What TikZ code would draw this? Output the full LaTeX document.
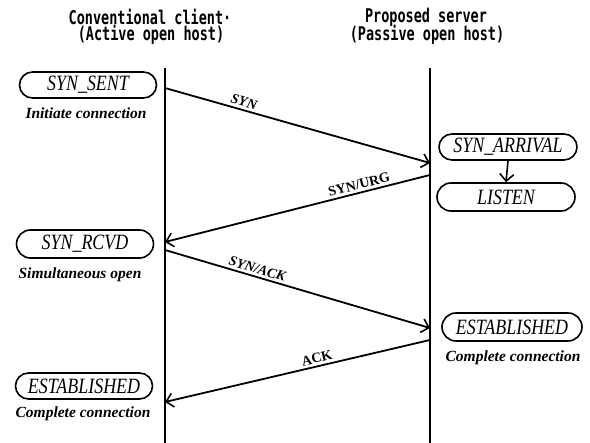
\documentclass[tikz,border=0pt]{standalone}
\usepackage{fontspec}
\setmainfont{Liberation Serif}
\newfontfamily\headfont{DejaVu Sans Mono}
\usetikzlibrary{shapes.misc,arrows.meta}

\begin{document}
\begin{tikzpicture}[x=1pt,y=-1pt,
  state/.style={rounded rectangle, draw, line width=1.6pt, minimum width=137pt,
    minimum height=26pt, inner sep=0pt, font=\fontsize{19.5}{20}\selectfont\itshape},
  caption/.style={font=\fontsize{15.5}{16}\selectfont\bfseries\itshape, inner sep=0pt},
  head/.style={font=\fontsize{13.5}{14}\selectfont\headfont\bfseries, inner sep=0pt},
  life/.style={line width=1.6pt},
  msg/.style={line width=1.8pt, -{Straight Barb[length=7pt,width=14pt,line width=1.6pt]}},
  msglab/.style={font=\fontsize{14}{14}\selectfont\bfseries, sloped, above, inner sep=2.5pt}
]
\useasboundingbox (0,0) rectangle (590,443);

% column headings
\node[head] (h1a) at (150,17) {\scalebox{1.0}[1.4]{Conventional client·}};
\node[head] (h1b) at (151,35) {\scalebox{1.0}[1.4]{(Active open host)}};
\node[head] (h2a) at (426,17) {\scalebox{1.0}[1.4]{Proposed server}};
\node[head] (h2b) at (427,35) {\scalebox{1.0}[1.4]{(Passive open host)}};

% lifelines
\coordinate (ltop) at (165,68);
\coordinate (lbot) at (165,443);
\coordinate (rtop) at (430,68);
\coordinate (rbot) at (430,443);
\draw[life] (ltop) -- (lbot);
\draw[life] (rtop) -- (rbot);

% client states
\node[state] (sent) at (88,85) {\scalebox{0.92}[1.12]{SYN\_SENT}};
\node[caption] (sentc) at (86,113) {Initiate connection};
\node[state, minimum height=28pt] (rcvd) at (85,244) {\scalebox{0.92}[1.12]{SYN\_RCVD}};
\node[caption] (rcvdc) at (80,275) {Simultaneous open};
\node[state] (estl) at (84,386) {\scalebox{0.92}[1.12]{ESTABLISHED}};
\node[caption] (estlc) at (83,414) {Complete connection};

% server states
\node[state, minimum width=138pt] (arr) at (508,147) {\scalebox{0.92}[1.12]{SYN\_ARRIVAL}};
\node[state, minimum width=138pt, minimum height=28pt] (lis) at (506,197) {\scalebox{0.92}[1.12]{LISTEN}};
\node[state, minimum width=140pt, minimum height=28pt] (estr) at (512,327) {\scalebox{0.92}[1.12]{ESTABLISHED}};
\node[caption] (estrc) at (513,358) {Complete connection};
\draw[msg, line width=1.6pt] (arr.south) -- (lis.north);

% message anchor points on the lifelines
\coordinate (m1s) at (165,88);
\coordinate (m1e) at (430,163);
\coordinate (m2s) at (430,175);
\coordinate (m2e) at (165,242);
\coordinate (m3s) at (165,250);
\coordinate (m3e) at (430,328);
\coordinate (m4s) at (430,340);
\coordinate (m4e) at (165,402);

% messages
\draw[msg] (m1s) -- node[msglab, pos=0.29, font=\fontsize{14}{14}\selectfont\bfseries\itshape] {SYN} (m1e);
\draw[msg] (m2s) -- node[msglab, pos=0.26] {SYN/URG} (m2e);
\draw[msg] (m3s) -- node[msglab, pos=0.34, font=\fontsize{14}{14}\selectfont\bfseries\itshape] {SYN/ACK} (m3e);
\draw[msg] (m4s) -- node[msglab, pos=0.42] {ACK} (m4e);
\end{tikzpicture}
\end{document}
